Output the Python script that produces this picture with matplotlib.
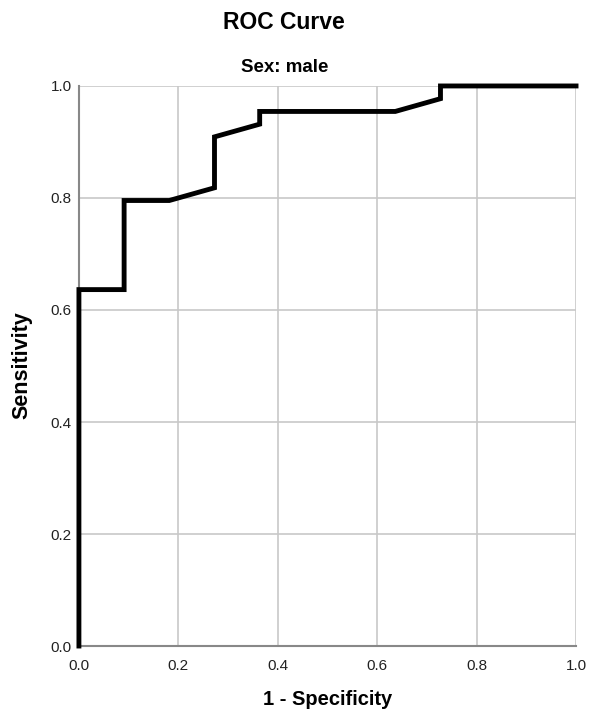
import matplotlib.pyplot as plt

# ROC coordinates (1 - specificity, sensitivity)
fpr = [0.0, 0.0, 0.0909, 0.0909, 0.1818, 0.2727, 0.2727, 0.3636, 0.3636, 0.6364, 0.7273, 0.7273, 1.0]
tpr = [0.0, 0.6364, 0.6364, 0.7955, 0.7955, 0.8182, 0.9091, 0.9318, 0.9545, 0.9545, 0.9773, 1.0, 1.0]
ticks = [0.0, 0.2, 0.4, 0.6, 0.8, 1.0]

font = ["Liberation Sans", "DejaVu Sans"]

fig = plt.figure(figsize=(5.89, 7.14), dpi=100)
ax = fig.add_axes([0.134, 0.0952, 0.844, 0.7844])

ax.plot(fpr, tpr, color="black", linewidth=3.5, solid_joinstyle="miter", clip_on=False, zorder=3)

ax.set_xlim(0, 1)
ax.set_ylim(0, 1)
ax.set_xticks(ticks)
ax.set_yticks(ticks)
ax.set_xticklabels([f"{t:.1f}" for t in ticks], family=font, fontsize=11)
ax.set_yticklabels([f"{t:.1f}" for t in ticks], family=font, fontsize=11)
ax.tick_params(axis="x", length=0, pad=9, colors="#222222")
ax.tick_params(axis="y", length=0, pad=5, colors="#222222")
ax.grid(color="#c8c8c8", linewidth=1.2)

for side in ["top", "right"]:
    ax.spines[side].set_visible(False)
for side in ["left", "bottom"]:
    ax.spines[side].set_color("#888888")
    ax.spines[side].set_linewidth(1.5)

ax.set_xlabel("1 - Specificity", family=font, fontsize=14.5, fontweight="bold", va="center")
ax.xaxis.set_label_coords(0.501, -0.096)
ax.set_ylabel("Sensitivity", family=font, fontsize=15.5, fontweight="bold", va="center")
ax.yaxis.set_label_coords(-0.115, 0.502)

fig.text(0.482, 0.968, "ROC Curve", family=font, fontsize=16.5, fontweight="bold",
         ha="center", va="center")
fig.text(0.484, 0.905, "Sex: male", family=font, fontsize=13.5, fontweight="bold",
         ha="center", va="center")

fig.savefig("out.png", dpi=100)
